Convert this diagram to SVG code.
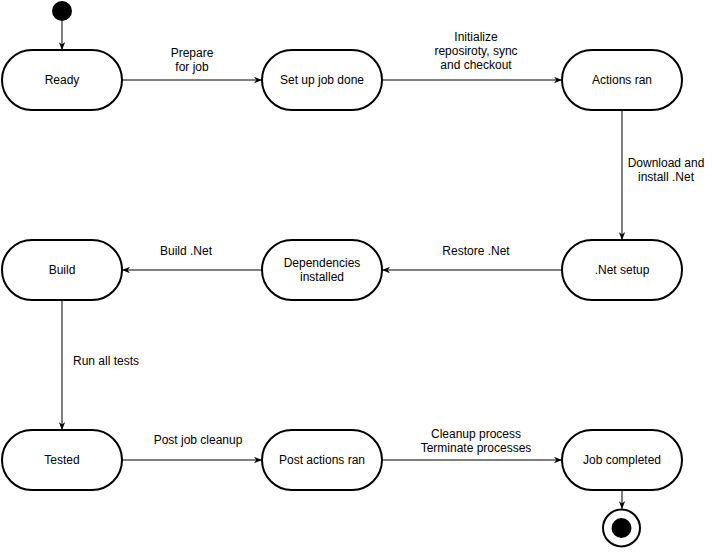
<svg xmlns="http://www.w3.org/2000/svg" width="712" height="552" viewBox="0 0 712 552">
<style>
.st{fill:#fff;stroke:#000;stroke-width:2}
.t{font-family:"Liberation Sans",Arial,sans-serif;font-size:12px;fill:#000;text-anchor:middle}
.e{stroke:#000;stroke-width:1;fill:none;marker-end:url(#arr)}
</style>
<defs>
<marker id="arr" markerUnits="userSpaceOnUse" viewBox="0 0 10 8" markerWidth="8" markerHeight="7" refX="10" refY="4" orient="auto">
<path d="M0,0 L10,4 L0,8 L3,4 Z" fill="#000"/>
</marker>
</defs>
<rect width="712" height="552" fill="#fff"/>
<g id="connectors">
<line class="e" x1="62" y1="21" x2="62" y2="50"/>
<line class="e" x1="122" y1="80" x2="262" y2="80"/>
<line class="e" x1="382" y1="80" x2="562" y2="80"/>
<line class="e" x1="622" y1="110" x2="622" y2="240"/>
<line class="e" x1="562" y1="270" x2="382" y2="270"/>
<line class="e" x1="262" y1="270" x2="122" y2="270"/>
<line class="e" x1="62" y1="300" x2="62" y2="430"/>
<line class="e" x1="122" y1="460" x2="262" y2="460"/>
<line class="e" x1="382" y1="460" x2="562" y2="460"/>
<line class="e" x1="622" y1="490" x2="622" y2="509"/>
<text class="t" x="192" y="57">Prepare</text>
<text class="t" x="192" y="71">for job</text>
<text class="t" x="476" y="41">Initialize</text>
<text class="t" x="476" y="55">reposiroty, sync</text>
<text class="t" x="476" y="69">and checkout</text>
<text class="t" x="666" y="167">Download and</text>
<text class="t" x="666" y="181">install .Net</text>
<text class="t" x="476" y="255">Restore .Net</text>
<text class="t" x="186" y="255">Build .Net</text>
<text class="t" x="106" y="365">Run all tests</text>
<text class="t" x="198" y="444">Post job cleanup</text>
<text class="t" x="476" y="438">Cleanup process</text>
<text class="t" x="476" y="452">Terminate processes</text>
</g>
<g id="start"><circle cx="62" cy="11" r="10" fill="#000"/></g>
<g id="ready"><rect class="st" x="2" y="50" width="120" height="60" rx="30"/><text class="t" x="62" y="84">Ready</text></g>
<g id="setup"><rect class="st" x="262" y="50" width="120" height="60" rx="30"/><text class="t" x="322" y="84">Set up job done</text></g>
<g id="actions"><rect class="st" x="562" y="50" width="120" height="60" rx="30"/><text class="t" x="622" y="84">Actions ran</text></g>
<g id="netsetup"><rect class="st" x="562" y="240" width="120" height="60" rx="30"/><text class="t" x="622" y="274">.Net setup</text></g>
<g id="deps"><rect class="st" x="262" y="240" width="120" height="60" rx="30"/><text class="t" x="322" y="267">Dependencies</text><text class="t" x="322" y="281">installed</text></g>
<g id="build"><rect class="st" x="2" y="240" width="120" height="60" rx="30"/><text class="t" x="62" y="274">Build</text></g>
<g id="tested"><rect class="st" x="2" y="430" width="120" height="60" rx="30"/><text class="t" x="62" y="464">Tested</text></g>
<g id="postactions"><rect class="st" x="262" y="430" width="120" height="60" rx="30"/><text class="t" x="322" y="464">Post actions ran</text></g>
<g id="jobcompleted"><rect class="st" x="562" y="430" width="120" height="60" rx="30"/><text class="t" x="622" y="464">Job completed</text></g>
<g id="end"><circle cx="621.5" cy="528" r="18.5" fill="#fff" stroke="#000" stroke-width="2"/><circle cx="621.5" cy="528" r="10" fill="#000"/></g>
</svg>
